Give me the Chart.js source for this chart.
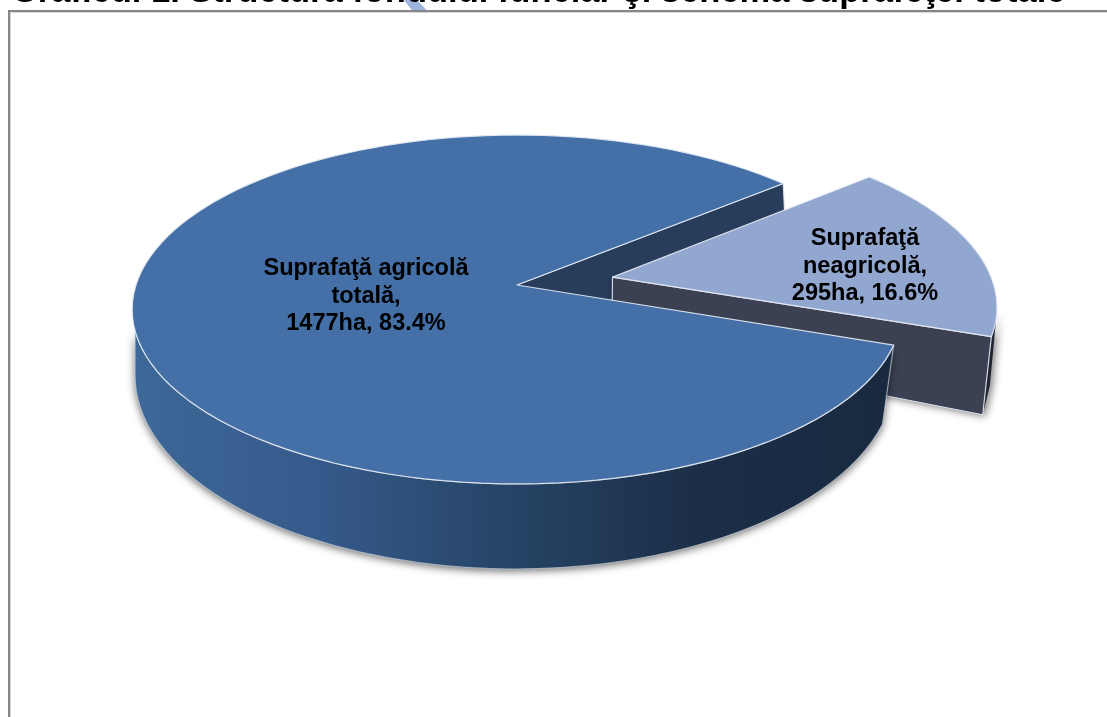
<!DOCTYPE html>
<html>
<head>
<meta charset="utf-8">
<title>Graficul 1</title>
<style>
  html, body { margin: 0; padding: 0; background: #fff; overflow: hidden; }
  canvas { display: block; }
</style>
<script src="https://cdn.jsdelivr.net/npm/chart.js@4"></script>
</head>
<body>
<canvas id="pie" width="1107" height="717"></canvas>
<script>
const chartTitle = "Graficul 1. Structura fondului funciar şi schema suprafeţei totale";
const categories = ["Suprafaţă agricolă totală", "Suprafaţă neagricolă"];
const areasHa = [1477, 295];
const sharesPct = ["83.4", "16.6"];

const labelLines = [
  ["Suprafaţă agricolă", "totală,"],
  ["Suprafaţă", "neagricolă,"]
];
const sliceColors = ["#4470a7", "#92a7cf"];

const DEG = Math.PI / 180;

// top face of the disc seen in perspective
function topPoint(u, v) {
  const w = 1 - 0.1405 * v;
  return [517 + 381 * u / w, 285 + 171 * v / w];
}
// bottom face, it comes out lower and a little narrower
function bottomPoint(u, v) {
  const w = 1 - 0.1145 * v;
  return [517 + 377 * u / w, 352 + 217 * v];
}

function sliceInfo(arc) {
  const p = arc.getProps(["startAngle", "endAngle", "outerRadius"], true);
  const mid = (p.startAngle + p.endAngle) / 2;
  const k = (arc.options.offset || 0) / p.outerRadius;
  return { start: p.startAngle, end: p.endAngle, ox: Math.cos(mid) * k, oy: Math.sin(mid) * k };
}

function at(fn, s, angle) {
  return fn(s.ox + Math.cos(angle), s.oy + Math.sin(angle));
}
function centre(fn, s) {
  return fn(s.ox, s.oy);
}

function poly(ctx, pts) {
  ctx.beginPath();
  pts.forEach((p, i) => i ? ctx.lineTo(p[0], p[1]) : ctx.moveTo(p[0], p[1]));
  ctx.closePath();
}

function arcPoints(fn, s, from, to) {
  const pts = [];
  const n = 120;
  for (let i = 0; i <= n; i++) pts.push(at(fn, s, from + (to - from) * i / n));
  return pts;
}

const pie3d = {
  id: "pie3d",
  beforeDraw(chart) {
    const ctx = chart.ctx;
    ctx.save();
    ctx.fillStyle = "#fff";
    ctx.fillRect(0, 0, 1107, 717);
    // blue stroke that shows behind the heading
    ctx.fillStyle = "#9db5dc";
    poly(ctx, [[404, 0], [417, 0], [427, 10.5], [412, 10.5]]);
    ctx.fill();
    // chart frame, it runs off the page on the right and bottom
    ctx.fillStyle = "#868686";
    ctx.fillRect(8, 10, 1099, 2);
    ctx.fillRect(8, 10, 2, 707);
    ctx.fillStyle = "#d9d9d9";
    ctx.fillRect(10, 12, 1097, 1);
    ctx.fillRect(10, 12, 1, 705);
    ctx.restore();
  },
  beforeDatasetsDraw(chart) {
    const ctx = chart.ctx;
    const arcs = chart.getDatasetMeta(0).data;
    const big = sliceInfo(arcs[0]);
    const small = sliceInfo(arcs[1]);
    const edge = "rgba(228,234,243,0.9)";

    ctx.save();
    ctx.lineJoin = "round";

    // inner wall of the big slice, seen in the gap
    poly(ctx, [centre(topPoint, big), at(topPoint, big, big.end), at(bottomPoint, big, big.end), centre(bottomPoint, big)]);
    ctx.fillStyle = "#283d5c";
    ctx.fill();
    ctx.strokeStyle = edge;
    ctx.lineWidth = 1.2;
    ctx.beginPath();
    ctx.moveTo(...centre(topPoint, big));
    ctx.lineTo(...at(topPoint, big, big.end));
    ctx.lineTo(...at(bottomPoint, big, big.end));
    ctx.stroke();

    // small slice, walls first
    const rimFrom = small.end - 8 * DEG;
    ctx.shadowColor = "rgba(0,0,0,0.6)";
    ctx.shadowBlur = 9;
    ctx.shadowOffsetX = 2;
    ctx.shadowOffsetY = 1;
    poly(ctx, [at(topPoint, small, small.end), at(topPoint, small, rimFrom), at(bottomPoint, small, rimFrom), at(bottomPoint, small, small.end)]);
    ctx.fillStyle = "#2d3345";
    ctx.fill();
    poly(ctx, [centre(topPoint, small), at(topPoint, small, small.end), at(bottomPoint, small, small.end), centre(bottomPoint, small)]);
    ctx.fillStyle = "#3b4153";
    ctx.fill();
    ctx.shadowColor = "transparent";
    ctx.strokeStyle = edge;
    ctx.stroke();

    poly(ctx, [centre(topPoint, small), ...arcPoints(topPoint, small, small.start, small.end)]);
    ctx.fillStyle = sliceColors[1];
    ctx.fill();
    ctx.strokeStyle = edge;
    ctx.stroke();

    // outer wall of the big slice
    const corner = at(topPoint, big, big.start);
    const cornerLow = at(bottomPoint, big, big.start);
    const t0 = Math.atan2((cornerLow[1] - 375) / 194, (cornerLow[0] - 515) / 380);
    ctx.beginPath();
    ctx.moveTo(corner[0], corner[1]);
    ctx.ellipse(515, 375, 380, 194, 0, t0, Math.PI);
    arcPoints(topPoint, big, 165 * DEG, big.start).forEach(p => ctx.lineTo(p[0], p[1]));
    ctx.closePath();
    const wall = ctx.createLinearGradient(135, 0, 885, 0);
    wall.addColorStop(0, "#3d6897");
    wall.addColorStop(0.25, "#35598a");
    wall.addColorStop(0.5, "#264466");
    wall.addColorStop(0.75, "#1b2e47");
    wall.addColorStop(1, "#192a40");
    ctx.fillStyle = wall;
    ctx.shadowColor = "rgba(0,0,0,0.6)";
    ctx.shadowBlur = 9;
    ctx.shadowOffsetX = 0;
    ctx.shadowOffsetY = 2;
    ctx.fill();
    ctx.shadowColor = "transparent";
    ctx.strokeStyle = "rgba(200,205,212,0.7)";
    ctx.stroke();

    // top of the big slice
    poly(ctx, [centre(topPoint, big), ...arcPoints(topPoint, big, big.start, big.end)]);
    ctx.fillStyle = sliceColors[0];
    ctx.fill();
    ctx.strokeStyle = edge;
    ctx.stroke();
    ctx.restore();
    return false;
  },
  afterDraw(chart) {
    const ctx = chart.ctx;
    const centres = [[366, 269], [865, 239]];
    ctx.save();
    ctx.fillStyle = "#000";
    ctx.font = "bold 23.5px 'Liberation Sans'";
    ctx.textAlign = "center";
    ctx.textBaseline = "middle";
    labelLines.forEach((lines, i) => {
      const all = lines.concat(areasHa[i] + "ha, " + sharesPct[i] + "%");
      all.forEach((line, j) => ctx.fillText(line, centres[i][0], centres[i][1] + j * 27.5));
    });
    ctx.restore();
  }
};

new Chart(document.getElementById("pie"), {
  type: "pie",
  data: {
    labels: categories,
    datasets: [{
      data: areasHa,
      backgroundColor: sliceColors,
      borderWidth: 0,
      offset: [0, 80]
    }]
  },
  options: {
    responsive: false,
    animation: false,
    rotation: 109.6,
    layout: { padding: { left: 11 } },
    plugins: {
      legend: { display: false },
      title: {
        display: true,
        text: chartTitle,
        align: "start",
        color: "#000",
        font: { family: "'Liberation Sans'", size: 34.5, weight: "bold" },
        padding: { top: -28, bottom: 0 }
      }
    }
  },
  plugins: [pie3d]
});
</script>
</body>
</html>
